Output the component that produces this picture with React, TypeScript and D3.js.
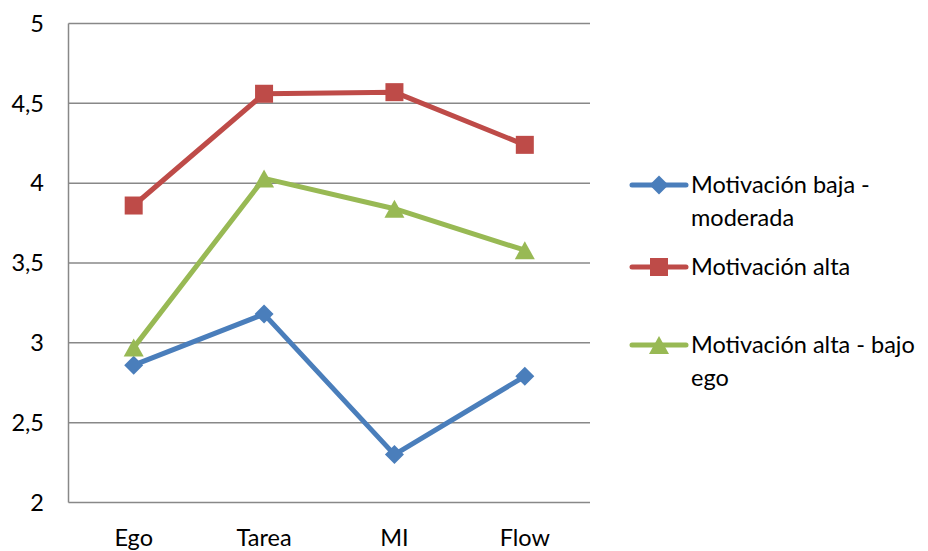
import React from "react";
import * as d3 from "d3";

const categories = ["Ego", "Tarea", "MI", "Flow"];
const seriesNames = ["Motivación baja - moderada", "Motivación alta", "Motivación alta - bajo ego"];
const bajaModerada = [2.86, 3.18, 2.30, 2.79];
const alta = [3.86, 4.56, 4.57, 4.24];
const altaBajoEgo = [2.97, 4.03, 3.84, 3.58];
const yTicks = [2, 2.5, 3, 3.5, 4, 4.5, 5];

const W = 928;
const H = 551;
const plot = { left: 68.5, right: 590, top: 23.5, bottom: 502.5 };
const FONT = "Lato, 'Open Sans', sans-serif";
const FS = 23.5;

const colors = ["#4A7EBB", "#BE4B48", "#98B954"];
const markers = ["diamond", "square", "triangle"];

function Marker({ kind, x, y, color }: { kind: string; x: number; y: number; color: string }) {
  if (kind === "diamond") {
    const r = 9.5;
    return <path d={`M${x},${y - r}L${x + r},${y}L${x},${y + r}L${x - r},${y}Z`} fill={color} />;
  }
  if (kind === "square") {
    const s = 18;
    return <rect x={x - s / 2} y={y - s / 2} width={s} height={s} fill={color} />;
  }
  const w = 20, h = 18;
  return <path d={`M${x},${y - h / 2}L${x + w / 2},${y + h / 2}L${x - w / 2},${y + h / 2}Z`} fill={color} />;
}

export default function App() {
  const x = d3.scaleBand<string>().domain(categories).range([plot.left, plot.right]).padding(0);
  const y = d3.scaleLinear().domain([2, 5]).range([plot.bottom, plot.top]);
  const cx = (c: string) => (x(c) as number) + x.bandwidth() / 2;
  const line = d3.line<number>().x((_, i) => cx(categories[i])).y((v) => y(v));
  const data = [bajaModerada, alta, altaBajoEgo];

  const legendRows = [
    { lines: ["Motivación baja -", "moderada"], cy: 185 },
    { lines: ["Motivación alta"], cy: 267 },
    { lines: ["Motivación alta - bajo", "ego"], cy: 345 },
  ];

  return (
    <svg width={W} height={H} style={{ position: "absolute", left: 0, top: 0, background: "#fff" }}>
      {yTicks.map((t) => (
        <line key={t} x1={plot.left} x2={plot.right} y1={y(t)} y2={y(t)} stroke="#888" strokeWidth={1.5} />
      ))}
      <line x1={plot.left} x2={plot.left} y1={plot.top} y2={plot.bottom} stroke="#888" strokeWidth={1.5} />
      {yTicks.map((t) => (
        <text key={t} x={44} y={y(t)} dy="0.35em" textAnchor="end" fontFamily={FONT} fontSize={FS} fill="#000">
          {d3.format(".1~f")(t).replace(".", ",")}
        </text>
      ))}
      {categories.map((c) => (
        <text key={c} x={cx(c)} y={538} dy="0.35em" textAnchor="middle" fontFamily={FONT} fontSize={FS} fill="#000">
          {c}
        </text>
      ))}
      {data.map((vals, si) => (
        <g key={si}>
          <path d={line(vals) as string} fill="none" stroke={colors[si]} strokeWidth={5} strokeLinejoin="round" strokeLinecap="round" />
          {vals.map((v, i) => (
            <Marker key={i} kind={markers[si]} x={cx(categories[i])} y={y(v)} color={colors[si]} />
          ))}
        </g>
      ))}
      {legendRows.map((row, si) => (
        <g key={si}>
          <line x1={632} x2={686} y1={row.cy} y2={row.cy} stroke={colors[si]} strokeWidth={5} strokeLinecap="round" />
          <Marker kind={markers[si]} x={659} y={row.cy} color={colors[si]} />
          {row.lines.map((l, li) => (
            <text key={li} x={691} y={row.cy + li * 33} dy="0.35em" fontFamily={FONT} fontSize={FS} fill="#000">
              {l}
            </text>
          ))}
        </g>
      ))}
      <title>{seriesNames.join(", ")}</title>
    </svg>
  );
}
